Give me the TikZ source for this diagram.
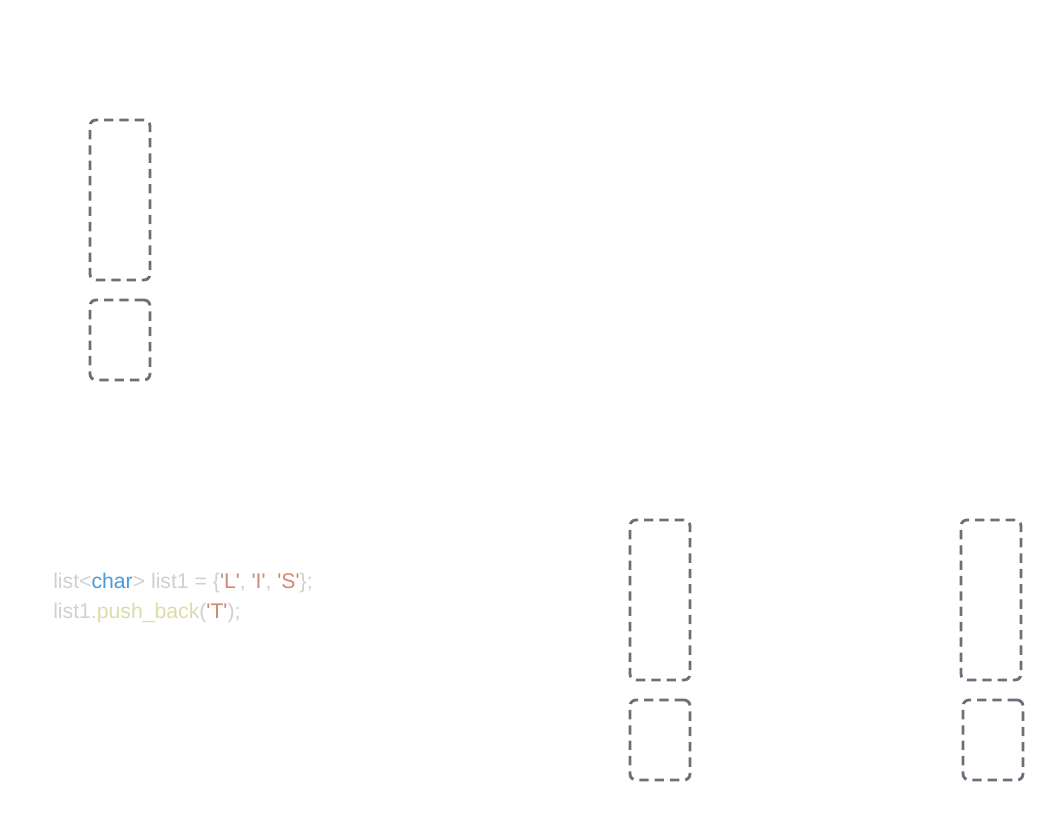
\documentclass[tikz,border=0pt]{standalone}
\usepackage{fontspec}
\setmainfont{Liberation Sans}[Ligatures=TeXOff]
\definecolor{boxgrey}{HTML}{6B6F7A}
\definecolor{codegrey}{HTML}{D0D0D0}
\definecolor{kwblue}{HTML}{4A9AD8}
\definecolor{strorange}{HTML}{CE8B70}
\definecolor{fnyellow}{HTML}{DCDCAA}
\begin{document}
\begin{tikzpicture}[x=0.75pt,y=-0.75pt,
  slot/.style={draw=boxgrey,line width=2.1pt,dash pattern=on 7pt off 4.5pt,rounded corners=4.5pt,minimum width=45pt,minimum height=120pt,inner sep=0pt,outer sep=0pt,anchor=north west},
  slotsmall/.style={slot,minimum height=60pt},
  code/.style={font=\fontsize{15.9}{18}\selectfont,text=codegrey,anchor=base west,inner sep=0pt}]
\useasboundingbox[fill=white] (0,0) rectangle (1063,820);
\node[slot] (a1) at (90,120) {};
\node[slotsmall] (a2) at (90,300) {};
\node[slot] (b1) at (630,520) {};
\node[slotsmall] (b2) at (630,700) {};
\node[slot] (c1) at (961,520) {};
\node[slotsmall] (c2) at (963,700) {};
\node[code] (l1) at (53,588) {list<\textcolor{kwblue}{char}> list1 = \{\textcolor{strorange}{'L'}, \textcolor{strorange}{'I'}, \textcolor{strorange}{'S'}\};};
\node[code] (l2) at (53,618) {list1.\textcolor{fnyellow}{push\_back}(\textcolor{strorange}{'T'});};
\end{tikzpicture}
\end{document}
